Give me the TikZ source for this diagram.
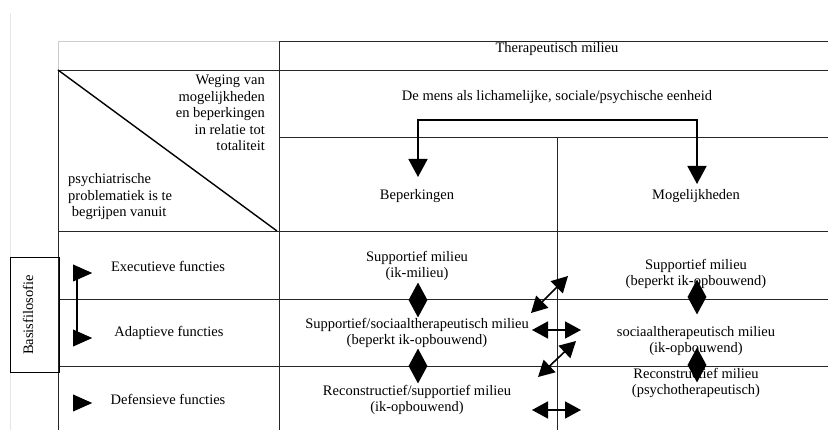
\documentclass[tikz,border=0pt]{standalone}
\usepackage{fontspec}
\setmainfont{Liberation Serif}
\usetikzlibrary{positioning, arrows.meta, shapes}

\begin{document}
\begin{tikzpicture}[
        x=1pt, y=-1pt,
        font=\fontsize{14.5}{16.5}\selectfont,
        grid_style/.style={black!85, line width=0.8pt},
        faint_style/.style={gray!40, line width=0.8pt},
        text_style/.style={align=center, inner sep=0pt},
        diamond_style/.style={diamond, fill=black, inner sep=0pt, minimum width=19pt, minimum height=35pt},
        marker_style/.style={isosceles triangle, fill=black, inner sep=0pt, isosceles triangle stretches, minimum width=17pt, minimum height=19pt, anchor=west},
        split_arrow/.style={line width=1.8pt, {Triangle[length=18pt, width=19pt]}-{Triangle[length=18pt, width=19pt]}},
        link_arrow/.style={line width=1.6pt, {Triangle[length=16pt, width=17pt]}-{Triangle[length=16pt, width=17pt]}}
    ]
        \useasboundingbox (0,0) rectangle (828,430);

        % Page margin and table grid
        \draw[gray!20, line width=0.8pt] (10,13) -- (10,430);
        \draw[faint_style] (58,41) -- (279,41);
        \draw[faint_style] (58,41) -- (58,70);
        \draw[grid_style] (279,41) -- (828,41);
        \draw[grid_style] (58,70) -- (828,70);
        \draw[grid_style] (279,137) -- (828,137);
        \draw[grid_style] (58,231) -- (828,231);
        \draw[grid_style] (58,299) -- (828,299);
        \draw[grid_style] (58,366) -- (828,366);
        \draw[grid_style] (58,70) -- (58,430);
        \draw[grid_style] (279,41) -- (279,430);
        \draw[grid_style] (557,137) -- (557,430);
        \draw[black, line width=1.4pt] (58,70) -- (277,231);

        % Coordinates
        \coordinate (tip_b) at (418,177);
        \coordinate (corner_b) at (418,120);
        \coordinate (corner_m) at (697,120);
        \coordinate (tip_m) at (697,184);
        \coordinate (v1) at (77,273);
        \coordinate (v2) at (77,338);
        \coordinate (l1a) at (531,313);
        \coordinate (l1b) at (568,276);
        \coordinate (l2a) at (532,330);
        \coordinate (l2b) at (581,330);
        \coordinate (l3a) at (538,377);
        \coordinate (l3b) at (576,341);
        \coordinate (l4a) at (532,410);
        \coordinate (l4b) at (581,410);

        % Header texts
        \node[text_style] (therap) at (557,49) {Therapeutisch milieu};
        \node[text_style] (mens) at (557,97) {De mens als lichamelijke, sociale/psychische eenheid};
        \node[text_style] (beperk) at (417,196) {Beperkingen};
        \node[text_style] (mogel) at (696,196) {Mogelijkheden};
        \node[text_style, align=right, anchor=east] (weging) at (265,113)
            {Weging van\\mogelijkheden\\en beperkingen\\in relatie tot\\totaliteit};
        \node[text_style, align=left, anchor=west] (psych) at (68,197)
            {psychiatrische\\problematiek is te\\\ begrijpen vanuit};

        % Functions
        \node[text_style] (exec) at (168,266) {Executieve functies};
        \node[text_style] (adapt) at (169,333) {Adaptieve functies};
        \node[text_style] (defens) at (168,399) {Defensieve functies};
        \node[marker_style] (tri_exec) at (73,273) {};
        \node[marker_style] (tri_adapt) at (73,338) {};
        \node[marker_style] (tri_defens) at (73,403) {};
        \draw[line width=1.5pt] (v1) -- (v2);

        % Basisfilosofie
        \node[draw, line width=1pt, minimum width=49pt, minimum height=115pt, inner sep=0pt] (basisbox) at (34.5,315.5) {};
        \node[rotate=90, inner sep=0pt] (basis) at (28,315) {Basisfilosofie};

        % Milieus
        \node[text_style] (sup_b) at (417,266) {Supportief milieu\\(ik-milieu)};
        \node[text_style] (soc_b) at (417,333) {Supportief/sociaaltherapeutisch milieu\\(beperkt ik-opbouwend)};
        \node[text_style] (rec_b) at (417,400) {Reconstructief/supportief milieu\\(ik-opbouwend)};
        \node[text_style] (sup_m) at (696,274) {Supportief milieu\\(beperkt ik-opbouwend)};
        \node[text_style] (soc_m) at (696,341) {sociaaltherapeutisch milieu\\(ik-opbouwend)};
        \node[text_style] (rec_m) at (696,383) {Reconstructief milieu\\(psychotherapeutisch)};

        % Diamonds
        \node[diamond_style] (dia_b1) at (418,300) {};
        \node[diamond_style] (dia_b2) at (418,366) {};
        \node[diamond_style] (dia_m1) at (697,297) {};
        \node[diamond_style] (dia_m2) at (697,365) {};

        % Arrows
        \draw[split_arrow] (tip_b) -- (corner_b) -- (corner_m) -- (tip_m);
        \draw[link_arrow] (l1a) -- (l1b);
        \draw[link_arrow] (l2a) -- (l2b);
        \draw[link_arrow] (l3a) -- (l3b);
        \draw[link_arrow] (l4a) -- (l4b);
    \end{tikzpicture}
\end{document}
